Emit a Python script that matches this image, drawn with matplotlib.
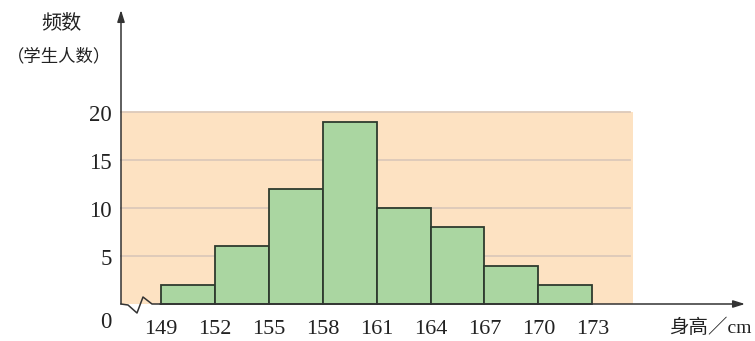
import matplotlib
matplotlib.use("Agg")
import matplotlib.pyplot as plt
import numpy as np

# ---- data ----
bin_edges = [149, 152, 155, 158, 161, 164, 167, 170, 173]
counts = [2, 6, 12, 19, 10, 8, 4, 2]
y_ticks = [5, 10, 15, 20]
x_tick_labels = [str(v) for v in bin_edges]
y_label_lines = ["频数", "（学生人数）"]
x_label = "身高／cm"

plt.rcParams['font.family'] = ['Noto Sans CJK SC', 'DejaVu Sans']
serif = ['Liberation Serif', 'DejaVu Serif']

W, H = 755, 341
fig = plt.figure(figsize=(W / 100, H / 100), dpi=100)
ax = fig.add_axes([0, 0, 1, 1])
ax.set_axis_off()

# pixel mapping: x=149 at px 161, 17.97 px per cm; y=0 at px 304 (from top), 9.6 px per unit
pxcm = 17.97
pxu = 9.6
x0 = 149 - 161 / pxcm
x1 = 149 + (W - 161) / pxcm
y0 = -(H - 304) / pxu
y1 = 304 / pxu
ax.set_xlim(x0, x1)
ax.set_ylim(y0, y1)

def px2x(px):
    return x0 + px / pxcm

def py2y(py):
    return (304 - py) / pxu

ax_left = px2x(121)
panel_right = px2x(633)

# orange panel
ax.fill_between([ax_left, panel_right], 0, 20, color='#FDE2C2', lw=0, zorder=0)
# gridlines
for t in y_ticks:
    ax.plot([ax_left, px2x(630)], [t, t], color='#DCC9BA', lw=1.3, zorder=1)

# histogram bars
widths = np.diff(bin_edges)
ax.bar(bin_edges[:-1], counts, width=widths, align='edge',
       color='#AAD6A1', edgecolor='#2E3B2E', linewidth=1.3, zorder=3)

# axis break zigzag
zx = [121, 128, 137, 143, 152, 161]
zy = [304, 305, 313, 297, 304, 304]
ax.plot([px2x(v) for v in zx], [py2y(v) for v in zy], color='#333333', lw=1.1, zorder=4)

# x axis arrow
ax.annotate('', xy=(px2x(745), 0), xytext=(px2x(160), 0),
            arrowprops=dict(arrowstyle='-|>,head_length=0.7,head_width=0.22',
                            color='#333333', lw=1.1, shrinkA=0, shrinkB=0), zorder=5)
# y axis arrow
ax.annotate('', xy=(ax_left, py2y(10)), xytext=(ax_left, 0),
            arrowprops=dict(arrowstyle='-|>,head_length=0.7,head_width=0.22',
                            color='#333333', lw=1.1, shrinkA=0, shrinkB=0), zorder=5)

# tick labels
for t in y_ticks:
    ax.text(px2x(112), t - 0.35, str(t), ha='right', va='center', fontsize=16.5,
            family=serif, color='#222222')
ax.text(px2x(111), py2y(322), '0', ha='right', va='center', fontsize=16.5,
        family=serif, color='#222222')
for v, lab in zip(bin_edges, x_tick_labels):
    ax.text(v, py2y(329), lab, ha='center', va='center', fontsize=16,
            family=serif, color='#222222')

# axis titles
ax.text(px2x(61), py2y(23), y_label_lines[0], ha='center', va='center',
        fontsize=14.5, color='#222222')
ax.text(px2x(59), py2y(56), y_label_lines[1], ha='center', va='center',
        fontsize=12.5, color='#222222')
ax.text(px2x(752), py2y(328), x_label, ha='right', va='center',
        fontsize=14, family=['Liberation Serif', 'Noto Sans CJK SC'], color='#222222')

fig.savefig('out.png', dpi=100)
